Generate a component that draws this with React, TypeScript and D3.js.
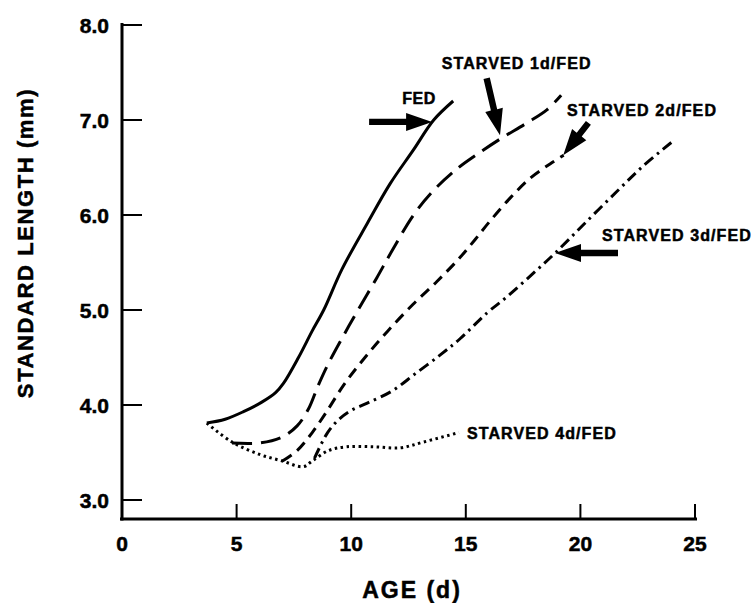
import React from "react";
import * as d3 from "d3";

// ---- data (age in days, standard length in mm) ----
const fedAge = [3.7, 4.5, 5.3, 6.1, 6.7, 7.05, 7.7, 8.3, 8.8, 9.6, 10.7, 11.7, 12.7, 13.6, 14.45];
const fedLen = [3.81, 3.85, 3.93, 4.03, 4.13, 4.23, 4.5, 4.78, 5.0, 5.43, 5.91, 6.33, 6.68, 7.0, 7.2];

const s1Age = [4.8, 6.0, 6.97, 7.64, 8.14, 8.55, 8.97, 9.64, 10.25, 11.12, 11.75, 12.72, 13.6, 14.69, 15.5, 16.5, 17.67, 18.55, 19.16];
const s1Len = [3.6, 3.6, 3.66, 3.78, 3.96, 4.2, 4.42, 4.72, 4.98, 5.34, 5.61, 6.0, 6.26, 6.5, 6.64, 6.8, 6.97, 7.11, 7.26];

const s2Age = [7.0, 7.64, 8.3, 8.9, 9.7, 10.6, 11.6, 12.7, 13.74, 14.7, 15.4, 16.07, 16.94, 17.82, 18.69, 19.27];
const s2Len = [3.41, 3.52, 3.71, 3.92, 4.22, 4.5, 4.78, 5.06, 5.3, 5.54, 5.74, 5.94, 6.18, 6.39, 6.54, 6.63];

const s3Age = [8.4, 8.97, 9.47, 9.97, 10.7, 11.8, 12.8, 13.9, 14.76, 15.93, 16.8, 17.96, 18.9, 20.14, 21.6, 22.76, 24.0];
const s3Len = [3.44, 3.71, 3.85, 3.94, 4.02, 4.15, 4.33, 4.53, 4.7, 4.97, 5.14, 5.39, 5.6, 5.9, 6.25, 6.52, 6.77];

const s4Age = [3.7, 4.8, 6.0, 7.0, 7.9, 8.3, 9.0, 9.8, 11.0, 12.15, 13.15, 14.7];
const s4Len = [3.81, 3.61, 3.48, 3.41, 3.35, 3.41, 3.52, 3.56, 3.56, 3.55, 3.61, 3.71];

const xTicks = [0, 5, 10, 15, 20, 25];
const yTicks = [3, 4, 5, 6, 7, 8];

const labelText = ["FED", "STARVED 1d/FED", "STARVED 2d/FED", "STARVED 3d/FED", "STARVED 4d/FED"];

const FONT = "'Liberation Sans', Arial, Helvetica, sans-serif";

export default function App() {
  const W = 755, H = 603;
  const x = d3.scaleLinear().domain([0, 25]).range([122, 695]);
  const y = d3.scaleLinear().domain([3, 8]).range([500, 25]);
  const axisY = 519;

  const line = d3
    .line<[number, number]>()
    .x((d) => x(d[0]))
    .y((d) => y(d[1]))
    .curve(d3.curveCatmullRom.alpha(0.5));

  const zip = (a: number[], b: number[]) => a.map((v, i) => [v, b[i]] as [number, number]);

  const series = [
    { pts: zip(fedAge, fedLen), dash: "none" },
    { pts: zip(s1Age, s1Len), dash: "20,9" },
    { pts: zip(s2Age, s2Len), dash: "11,7" },
    { pts: zip(s3Age, s3Len), dash: "11,5,2.5,5" },
    { pts: zip(s4Age, s4Len), dash: "2.5,3.5" },
  ];

  // arrows: [tailAge, tailLen, tipAge, tipLen]
  const arrows = [
    [10.78, 6.98, 13.53, 6.98],
    [15.91, 7.44, 16.49, 6.84],
    [20.35, 6.97, 19.25, 6.63],
    [21.64, 5.6, 18.89, 5.6],
  ];

  const arrowPath = (a: number[]) => {
    const tx = x(a[0]), ty = y(a[1]), px = x(a[2]), py = y(a[3]);
    const dx = px - tx, dy = py - ty;
    const len = Math.hypot(dx, dy);
    const ux = dx / len, uy = dy / len;
    const nx = -uy, ny = ux;
    const HL = 26, HW = 9, SW = 3.2;
    const bx = px - ux * HL, by = py - uy * HL;
    const p = [
      [tx + nx * SW, ty + ny * SW],
      [bx + nx * SW, by + ny * SW],
      [bx + nx * HW, by + ny * HW],
      [px, py],
      [bx - nx * HW, by - ny * HW],
      [bx - nx * SW, by - ny * SW],
      [tx - nx * SW, ty - ny * SW],
    ];
    return "M" + p.map((q) => q[0].toFixed(1) + "," + q[1].toFixed(1)).join("L") + "Z";
  };

  // label anchors: [age, len, anchor]
  const labels: [number, number, string][] = [
    [12.96, 7.17, "middle"],
    [13.95, 7.54, "start"],
    [19.42, 7.04, "start"],
    [20.94, 5.73, "start"],
    [15.05, 3.64, "start"],
  ];

  const heavy = { stroke: "#000", strokeWidth: 0.5 };

  return (
    <svg
      width={W}
      height={H}
      style={{ position: "absolute", left: 0, top: 0, background: "#fff" }}
      fontFamily={FONT}
      fontWeight="bold"
    >
      <rect width={W} height={H} fill="#fff" />
      {/* axes */}
      <line x1={x(0)} x2={x(0)} y1={y(8) - 2} y2={axisY + 1.5} stroke="#000" strokeWidth={3} />
      <line x1={x(0) - 2} x2={x(25) + 2} y1={axisY} y2={axisY} stroke="#000" strokeWidth={3} />
      {yTicks.map((t) => (
        <g key={"y" + t}>
          <line x1={x(0)} x2={x(0) + 20} y1={y(t)} y2={y(t)} stroke="#000" strokeWidth={2} />
          <text x={109} y={y(t) + 7.5} textAnchor="end" fontSize={21} {...heavy}>
            {t.toFixed(1)}
          </text>
        </g>
      ))}
      {xTicks.map((t) => (
        <g key={"x" + t}>
          {t > 0 && (
            <line x1={x(t)} x2={x(t)} y1={axisY} y2={axisY - 15} stroke="#000" strokeWidth={2} />
          )}
          <text x={x(t)} y={551} textAnchor="middle" fontSize={21} {...heavy}>
            {t}
          </text>
        </g>
      ))}
      <text x={412} y={598} textAnchor="middle" fontSize={23} letterSpacing={2} {...heavy}>
        AGE (d)
      </text>
      <text
        transform={`translate(33,243) rotate(-90)`}
        textAnchor="middle"
        fontSize={22}
        letterSpacing={1.6}
        {...heavy}
      >
        STANDARD LENGTH (mm)
      </text>

      {/* curves */}
      {series.map((s, i) => (
        <path
          key={i}
          d={line(s.pts) || ""}
          fill="none"
          stroke="#000"
          strokeWidth={3}
          strokeDasharray={s.dash}
        />
      ))}

      {/* arrows */}
      {arrows.map((a, i) => (
        <path key={"a" + i} d={arrowPath(a)} fill="#000" />
      ))}

      {/* labels */}
      {labels.map((l, i) => (
        <text
          key={"l" + i}
          x={x(l[0])}
          y={y(l[1])}
          textAnchor={l[2]}
          fontSize={16}
          letterSpacing={i === 0 ? 0.5 : 1.1}
          {...heavy}
        >
          {labelText[i]}
        </text>
      ))}
    </svg>
  );
}
